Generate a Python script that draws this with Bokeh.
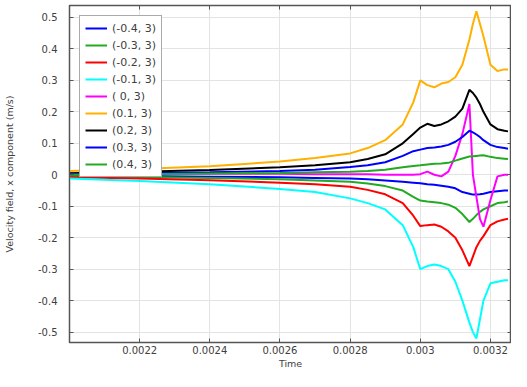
from bokeh.plotting import figure
from bokeh.models import (LinearAxis, FixedTicker, CustomJSTickFormatter, Legend,
                          LegendItem, Range1d)
from bokeh.embed import file_html
from bokeh.resources import INLINE

time = [0.002, 0.0022, 0.0024, 0.0026, 0.0027, 0.0028, 0.00285, 0.0029, 0.00295,
        0.00298, 0.003, 0.00302, 0.00304, 0.00306, 0.00308, 0.0031, 0.00312,
        0.00314, 0.00315, 0.00316, 0.00317, 0.00318, 0.0032, 0.00322, 0.00324, 0.00325]

u_m04 = [-0.002, -0.004, -0.006, -0.008, -0.010, -0.012, -0.014, -0.018, -0.022,
         -0.025, -0.027, -0.030, -0.032, -0.035, -0.038, -0.043, -0.055,
         -0.060, -0.063, -0.063, -0.062, -0.060, -0.055, -0.052, -0.050, -0.050]
u_m03 = [-0.005, -0.007, -0.010, -0.014, -0.018, -0.022, -0.028, -0.036, -0.050,
         -0.070, -0.082, -0.085, -0.087, -0.090, -0.095, -0.105, -0.125,
         -0.150, -0.140, -0.128, -0.118, -0.110, -0.100, -0.090, -0.087, -0.085]
u_m02 = [-0.008, -0.012, -0.017, -0.025, -0.030, -0.038, -0.048, -0.062, -0.090,
         -0.130, -0.163, -0.160, -0.158, -0.165, -0.180, -0.200, -0.240,
         -0.290, -0.260, -0.230, -0.210, -0.195, -0.160, -0.148, -0.142, -0.140]
u_m01 = [-0.012, -0.020, -0.030, -0.045, -0.055, -0.075, -0.090, -0.110, -0.160,
         -0.230, -0.300, -0.290, -0.285, -0.290, -0.300, -0.340, -0.400,
         -0.470, -0.500, -0.520, -0.460, -0.400, -0.345, -0.340, -0.335, -0.335]
u_00 = [0.003, 0.003, 0.003, 0.003, 0.002, 0.002, 0.002, 0.000, 0.000,
        0.000, 0.002, 0.010, 0.000, -0.005, 0.010, 0.060, 0.130,
        0.225, 0.000, -0.070, -0.140, -0.165, -0.080, -0.005, 0.000, 0.000]
u_01 = [0.012, 0.018, 0.027, 0.042, 0.053, 0.068, 0.085, 0.110, 0.160,
        0.230, 0.300, 0.285, 0.278, 0.290, 0.295, 0.310, 0.350,
        0.430, 0.480, 0.520, 0.480, 0.440, 0.350, 0.330, 0.335, 0.335]
u_02 = [0.005, 0.010, 0.015, 0.024, 0.030, 0.040, 0.050, 0.065, 0.100,
        0.130, 0.150, 0.162, 0.155, 0.160, 0.170, 0.185, 0.210,
        0.270, 0.260, 0.245, 0.225, 0.200, 0.160, 0.145, 0.140, 0.138]
u_03 = [0.002, 0.005, 0.008, 0.012, 0.016, 0.025, 0.030, 0.040, 0.060,
        0.075, 0.080, 0.085, 0.087, 0.090, 0.095, 0.105, 0.120,
        0.140, 0.135, 0.128, 0.120, 0.110, 0.095, 0.088, 0.085, 0.083]
u_04 = [0.000, 0.002, 0.004, 0.006, 0.008, 0.010, 0.012, 0.016, 0.024,
        0.028, 0.030, 0.033, 0.035, 0.036, 0.038, 0.045, 0.052,
        0.058, 0.059, 0.060, 0.061, 0.062, 0.057, 0.053, 0.051, 0.050]

labels = ["(-0.4, 3)", "(-0.3, 3)", "(-0.2, 3)", "(-0.1, 3)", "( 0, 3)",
          "(0.1, 3)", "(0.2, 3)", "(0.3, 3)", "(0.4, 3)"]
colors = ["#0000ff", "#22aa22", "#ff0000", "#00ffff", "#ff00ff",
          "#ffb000", "#000000", "#0000ff", "#22aa22"]
series = [u_m04, u_m03, u_m02, u_m01, u_00, u_01, u_02, u_03, u_04]

x_ticks = [0.0022, 0.0024, 0.0026, 0.0028, 0.003, 0.0032]
y_ticks = [-0.5, -0.4, -0.3, -0.2, -0.1, 0, 0.1, 0.2, 0.3, 0.4, 0.5]

FONT = "DejaVu Sans"
TXT = "#404040"
AX = "#555555"

p = figure(width=511, height=371, output_backend="svg", toolbar_location=None,
           x_range=Range1d(0.002, 0.00326), y_range=Range1d(-0.533, 0.538),
           min_border_left=68, min_border_right=0, min_border_top=5,
           min_border_bottom=0)
p.outline_line_color = AX
p.outline_line_width = 1.5

fmt = CustomJSTickFormatter(code="return String(parseFloat(tick.toFixed(6)));")
blank = CustomJSTickFormatter(code="return '';")

xa = p.below[0]
ya = p.left[0]
xa.ticker = FixedTicker(ticks=x_ticks)
ya.ticker = FixedTicker(ticks=y_ticks)
xa.formatter = fmt
ya.formatter = fmt
xa.axis_label = "Time"
ya.axis_label = "Velocity field, x component (m/s)"

top_ax = LinearAxis(ticker=FixedTicker(ticks=x_ticks), formatter=blank,
                    major_label_standoff=0)
right_ax = LinearAxis(ticker=FixedTicker(ticks=y_ticks), formatter=blank,
                      major_label_standoff=0)
p.add_layout(top_ax, "above")
p.add_layout(right_ax, "right")

for ax in [xa, ya, top_ax, right_ax]:
    ax.major_tick_in = 4
    ax.major_tick_out = 0
    ax.minor_tick_in = 0
    ax.minor_tick_out = 0
    ax.axis_line_color = AX
    ax.major_tick_line_color = AX
    ax.major_label_text_font = FONT
    ax.major_label_text_color = TXT
    ax.major_label_text_font_size = "10px"
    ax.axis_label_text_font = FONT
    ax.axis_label_text_color = TXT
    ax.axis_label_text_font_style = "normal"
    ax.axis_label_text_font_size = "9.5px"
xa.axis_label_standoff = 1
xa.major_label_standoff = 3
ya.major_label_standoff = 12
ya.axis_label_standoff = 20

p.xgrid.grid_line_color = "#e3e3e3"
p.ygrid.grid_line_color = "#e3e3e3"

items = []
for lab, col, vals in zip(labels, colors, series):
    r = p.line(time, vals, line_color=col, line_width=2)
    items.append(LegendItem(label=lab, renderers=[r]))

legend = Legend(items=items, location="top_left")
legend.label_text_font = FONT
legend.label_text_font_size = "11px"
legend.label_text_color = TXT
legend.glyph_height = 14
legend.glyph_width = 22
legend.label_height = 14
legend.label_standoff = 5
legend.spacing = 3
legend.padding = 5
legend.margin = 10
legend.border_line_color = AX
legend.border_line_width = 1.5
legend.background_fill_alpha = 1
p.add_layout(legend)

open("out.html", "w").write(file_html(p, INLINE))
